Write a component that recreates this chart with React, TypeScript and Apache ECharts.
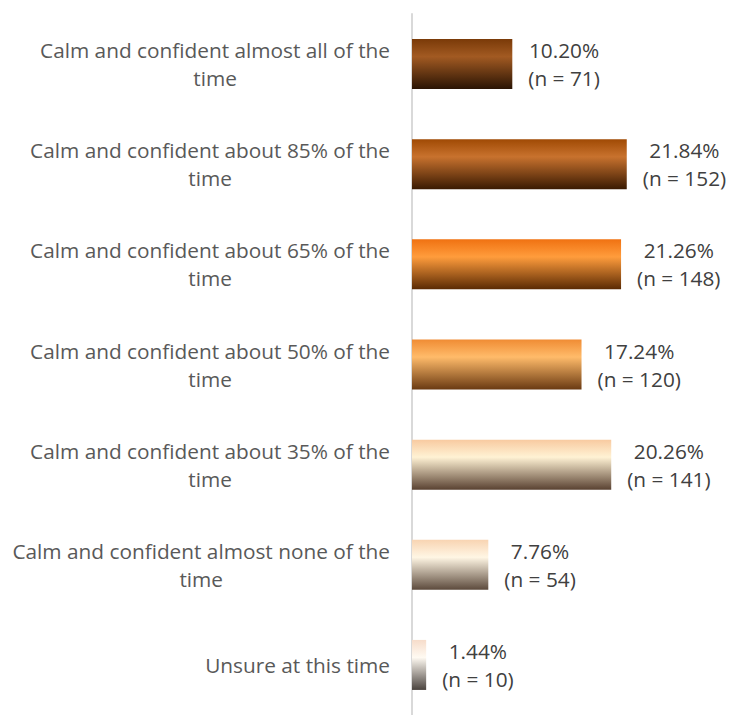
import React, { useEffect, useRef } from "react";
import * as echarts from "echarts";

const categories = [
  "Calm and confident almost all of the\ntime",
  "Calm and confident about 85% of the\ntime",
  "Calm and confident about 65% of the\ntime",
  "Calm and confident about 50% of the\ntime",
  "Calm and confident about 35% of the\ntime",
  "Calm and confident almost none of the\ntime",
  "Unsure at this time",
];
const percents = [10.2, 21.84, 21.26, 17.24, 20.26, 7.76, 1.44];
const counts = [71, 152, 148, 120, 141, 54, 10];

const gradients: [string, string, string][] = [
  ["#7a3a08", "#a25a22", "#2a1404"],
  ["#a04a04", "#c8722e", "#3a1a02"],
  ["#f07212", "#ff9c3c", "#5a2a04"],
  ["#f08c34", "#ffbb6a", "#6a3a12"],
  ["#f8caa0", "#fff2d4", "#5a4232"],
  ["#f8d4b2", "#fff6e4", "#5c4a3c"],
  ["#f6dcca", "#fffaf2", "#4a433e"],
];

function grad(c: [string, string, string]) {
  return new echarts.graphic.LinearGradient(0, 0, 0, 1, [
    { offset: 0, color: c[0] },
    { offset: 0.35, color: c[1] },
    { offset: 1, color: c[2] },
  ]);
}

const FONT = "Open Sans";
const FS = 20.8;

export default function App() {
  const ref = useRef<HTMLDivElement>(null);
  useEffect(() => {
    if (!ref.current) return;
    const chart = echarts.init(ref.current, undefined, { renderer: "svg" });
    chart.setOption({
      animation: false,
      backgroundColor: "#ffffff",
      grid: { left: 412, top: 14, width: 295, height: 705 },
      xAxis: {
        type: "value",
        min: 0,
        max: 30,
        show: false,
      },
      yAxis: {
        type: "category",
        inverse: true,
        data: categories,
        axisLine: { show: true, lineStyle: { color: "#d9d9d9", width: 2 } },
        axisTick: { show: false },
        axisLabel: {
          margin: 22,
          color: "#595959",
          fontFamily: FONT,
          fontSize: FS,
          lineHeight: 28,
          formatter: (v: string) =>
            v
              .split("\n")
              .map((l) => "{a|" + l + "}")
              .join("\n"),
          rich: {
            a: {
              align: "center",
              color: "#595959",
              fontFamily: FONT,
              fontSize: FS,
              lineHeight: 28,
            },
          },
        },
      },
      series: [
        {
          type: "bar",
          barWidth: 50,
          data: percents.map((p, i) => ({
            value: p,
            itemStyle: { color: grad(gradients[i]) },
          })),
          label: {
            show: true,
            position: "right",
            distance: 16,
            color: "#404040",
            fontFamily: FONT,
            fontSize: FS,
            lineHeight: 28,
            formatter: (p: any) =>
              "{a|" +
              percents[p.dataIndex].toFixed(2) +
              "%}\n{a|(n = " +
              counts[p.dataIndex] +
              ")}",
            rich: {
              a: {
                align: "center",
                color: "#404040",
                fontFamily: FONT,
                fontSize: FS,
                lineHeight: 28,
              },
            },
          },
        },
      ],
    });
    return () => chart.dispose();
  }, []);
  return (
    <div
      ref={ref}
      style={{ position: "absolute", left: 0, top: 0, width: 730, height: 715 }}
    />
  );
}
